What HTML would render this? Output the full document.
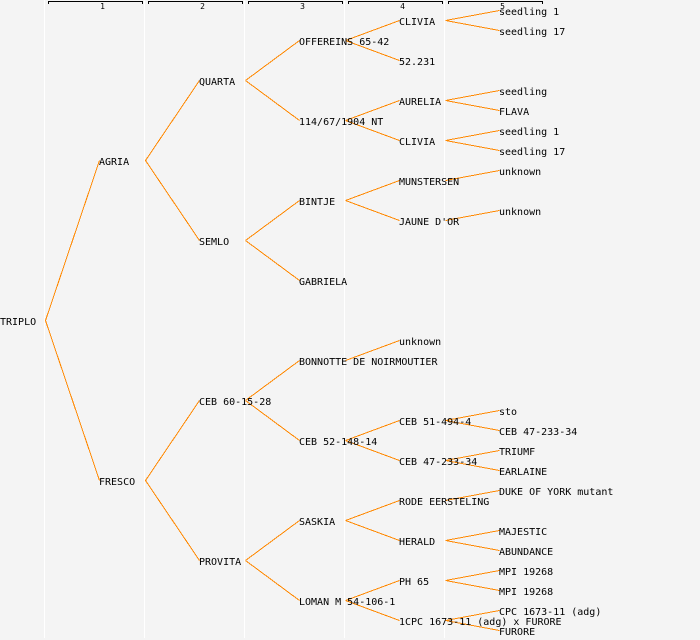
<!DOCTYPE html>
<html>
<head>
<meta charset="utf-8">
<style>
html,body{margin:0;padding:0;background:#f4f4f4}
svg{display:block}
text{font-family:"DejaVu Sans Mono","Liberation Mono",monospace;font-size:10px;fill:#000}
.n text{font-size:8px}
</style>
</head>
<body>
<svg width="700" height="640" viewBox="0 0 700 640" xmlns="http://www.w3.org/2000/svg">
<rect width="700" height="640" fill="#f4f4f4"/>
<g fill="#fff" shape-rendering="crispEdges">
<rect x="44" y="0" width="1" height="638"/>
<rect x="144" y="0" width="1" height="638"/>
<rect x="244" y="0" width="1" height="638"/>
<rect x="344" y="0" width="1" height="638"/>
<rect x="444" y="0" width="1" height="638"/>
</g>
<g fill="none" stroke="#000" shape-rendering="crispEdges">
<path d="M48.5 4V1.5H142.5V4"/>
<path d="M148.5 4V1.5H242.5V4"/>
<path d="M248.5 4V1.5H342.5V4"/>
<path d="M348.5 4V1.5H442.5V4"/>
<path d="M448.5 4V1.5H542.5V4"/>
</g>
<g class="n" text-anchor="middle">
<text x="102.5" y="9">1</text>
<text x="202.5" y="9">2</text>
<text x="302.5" y="9">3</text>
<text x="402.5" y="9">4</text>
<text x="502.5" y="9">5</text>
</g>
<g fill="none" stroke="#ff8800" stroke-width="1" shape-rendering="crispEdges" transform="translate(0.5,-0.5)">
<path d="M45 321L99 161M45 321L99 481"/>
<path d="M145 161L199 81M145 161L199 241M145 481L199 401M145 481L199 561"/>
<path d="M245 81L299 41M245 81L299 121M245 241L299 201M245 241L299 281M245 401L299 361M245 401L299 441M245 561L299 521M245 561L299 601"/>
<path d="M345 41L399 21M345 41L399 61M345 121L399 101M345 121L399 141M345 201L399 181M345 201L399 221M345 361L399 341M345 441L399 421M345 441L399 461M345 521L399 501M345 521L399 541M345 601L399 581M345 601L399 621"/>
<path d="M445 21L499 11M445 21L499 31M445 101L499 91M445 101L499 111M445 141L499 131M445 141L499 151M445 181L499 171M445 221L499 211M445 421L499 411M445 421L499 431M445 461L499 451M445 461L499 471M445 501L499 491M445 541L499 531M445 541L499 551M445 581L499 571M445 581L499 591M445 621L499 611M445 621L499 631"/>
</g>
<g>
<text x="0" y="325">TRIPLO</text>
<text x="99" y="165">AGRIA</text>
<text x="99" y="485">FRESCO</text>
<text x="199" y="85">QUARTA</text>
<text x="199" y="245">SEMLO</text>
<text x="199" y="405">CEB 60-15-28</text>
<text x="199" y="565">PROVITA</text>
<text x="299" y="45">OFFEREINS 65-42</text>
<text x="299" y="125">114/67/1904 NT</text>
<text x="299" y="205">BINTJE</text>
<text x="299" y="285">GABRIELA</text>
<text x="299" y="365">BONNOTTE DE NOIRMOUTIER</text>
<text x="299" y="445">CEB 52-148-14</text>
<text x="299" y="525">SASKIA</text>
<text x="299" y="605">LOMAN M 54-106-1</text>
<text x="399" y="25">CLIVIA</text>
<text x="399" y="65">52.231</text>
<text x="399" y="105">AURELIA</text>
<text x="399" y="145">CLIVIA</text>
<text x="399" y="185">MUNSTERSEN</text>
<text x="399" y="225">JAUNE D'OR</text>
<text x="399" y="345">unknown</text>
<text x="399" y="425">CEB 51-494-4</text>
<text x="399" y="465">CEB 47-233-34</text>
<text x="399" y="505">RODE EERSTELING</text>
<text x="399" y="545">HERALD</text>
<text x="399" y="585">PH 65</text>
<text x="399" y="625">1CPC 1673-11 (adg) x FURORE</text>
<text x="499" y="15">seedling 1</text>
<text x="499" y="35">seedling 17</text>
<text x="499" y="95">seedling</text>
<text x="499" y="115">FLAVA</text>
<text x="499" y="135">seedling 1</text>
<text x="499" y="155">seedling 17</text>
<text x="499" y="175">unknown</text>
<text x="499" y="215">unknown</text>
<text x="499" y="415">sto</text>
<text x="499" y="435">CEB 47-233-34</text>
<text x="499" y="455">TRIUMF</text>
<text x="499" y="475">EARLAINE</text>
<text x="499" y="495">DUKE OF YORK mutant</text>
<text x="499" y="535">MAJESTIC</text>
<text x="499" y="555">ABUNDANCE</text>
<text x="499" y="575">MPI 19268</text>
<text x="499" y="595">MPI 19268</text>
<text x="499" y="615">CPC 1673-11 (adg)</text>
<text x="499" y="635">FURORE</text>
</g>
</svg>
</body>
</html>
